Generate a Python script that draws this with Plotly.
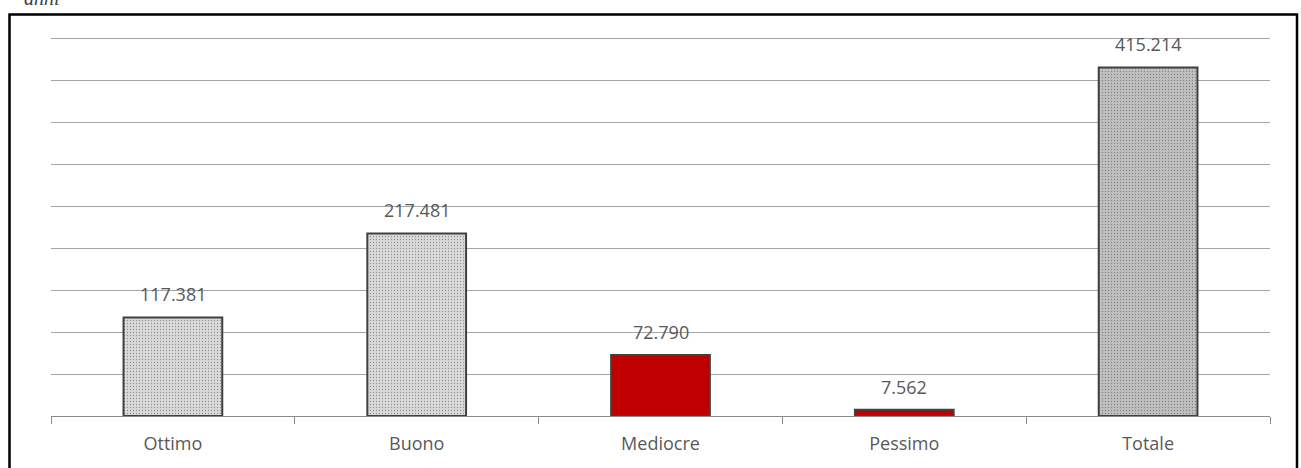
import plotly.graph_objects as go

categories = ["Ottimo", "Buono", "Mediocre", "Pessimo", "Totale"]
values = [117381, 217481, 72790, 7562, 415214]
labels = ["117.381", "217.481", "72.790", "7.562", "415.214"]
colors = ["#dadada", "#dadada", "#c00000", "#c00000", "#c0c0c0"]
pattern_fg = ["#d2d2d2", "#d2d2d2", "#c00000", "#c00000", "#cdcdcd"]

W, H = 1301, 468
L, R, T, B = 51, 31, 34, 52
pw, ph = W - L - R, H - T - B

fig = go.Figure()
fig.add_trace(go.Bar(
    x=categories, y=values, width=0.405,
    marker=dict(color=colors, line=dict(color="#404040", width=2),
                pattern=dict(shape=[".", ".", "", "", "."], fgcolor=pattern_fg,
                             size=3, solidity=0.15)),
    hoverinfo="skip",
))
for c, v, t in zip(categories, values, labels):
    fig.add_annotation(x=c, y=v, text=t, showarrow=False, yanchor="middle",
                       yshift=23, font=dict(family="Open Sans", size=18, color="#595959"))

fig.add_annotation(xref="paper", yref="paper", x=(22 - L) / pw, y=(H - B + 2) / ph,
                   text="<i>anni</i>", showarrow=False, xanchor="left", yanchor="middle",
                   font=dict(family="Liberation Serif", size=20, color="#404040"))

fig.add_shape(type="rect", xref="paper", yref="paper",
              x0=(9.5 - L) / pw, x1=(1297 - L) / pw,
              y0=-0.3, y1=(H - B - 14.5) / ph,
              line=dict(color="black", width=2.5), fillcolor="rgba(0,0,0,0)", layer="above")

fig.update_layout(
    width=W, height=H, margin=dict(l=L, r=R, t=T, b=B),
    paper_bgcolor="white", plot_bgcolor="white", showlegend=False,
    bargap=0.595,
    xaxis=dict(showline=True, linecolor="#8c8c8c", linewidth=1, ticks="outside",
               tickson="boundaries", ticklen=7, tickcolor="#8c8c8c",
               ticklabelstandoff=11,
               tickfont=dict(family="Open Sans", size=18, color="#595959"),
               showgrid=False),
    yaxis=dict(range=[0, 455000], tickvals=[50000 * i for i in range(1, 10)],
               showgrid=True, gridcolor="#a6a6a6",
               gridwidth=1, showticklabels=False, zeroline=False),
)
fig.write_html("out.html")
